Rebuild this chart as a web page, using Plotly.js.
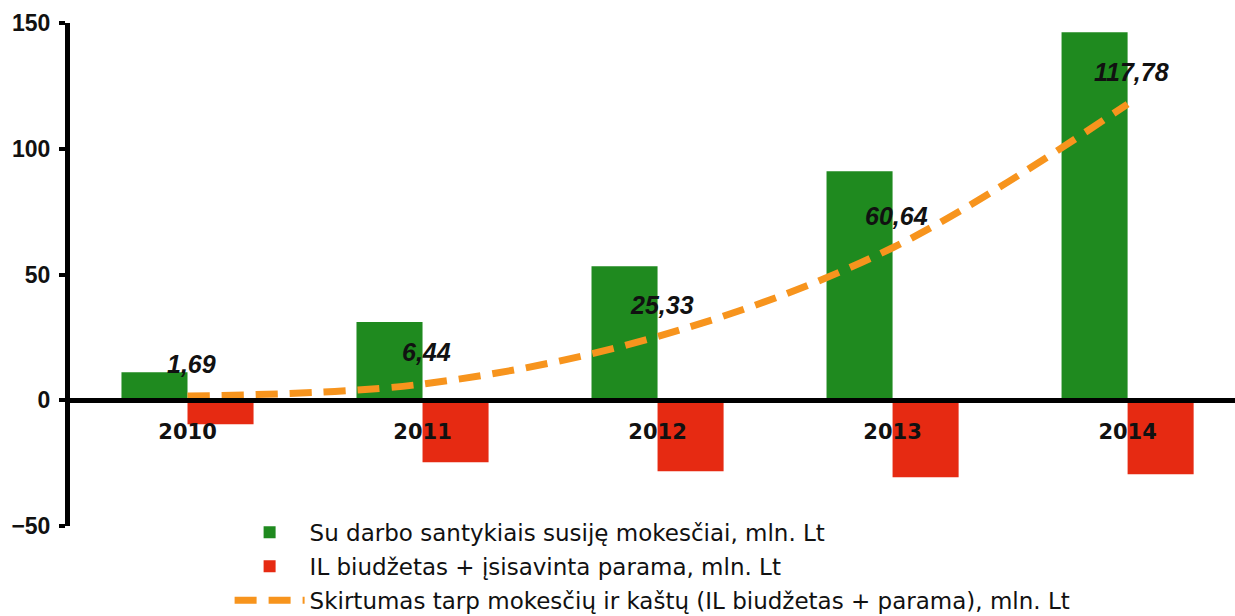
<!DOCTYPE html>
<html>
<head>
<meta charset="utf-8">
<script src="https://cdn.plot.ly/plotly-3.0.1.min.js"></script>
<style>html,body{margin:0;padding:0;background:#fff;}#chart{width:1235px;height:616px;}</style>
</head>
<body>
<div id="chart"></div>
<script>
const years = ['2010', '2011', '2012', '2013', '2014'];
const taxes = [11.1, 31.1, 53.3, 91.1, 146.3];
const costs = [-9.5, -24.7, -28.2, -30.6, -29.4];
const difference = [1.69, 6.44, 25.33, 60.64, 117.78];
const differenceLabels = ['1,69', '6,44', '25,33', '60,64', '117,78'];
const seriesNames = [
  'Su darbo santykiais susiję mokesčiai, mln. Lt',
  'IL biudžetas + įsisavinta parama, mln. Lt',
  'Skirtumas tarp mokesčių ir kaštų (IL biudžetas + parama), mln. Lt'
];

const font = 'Liberation Sans, Arial, sans-serif';

const traces = [
  {type: 'bar', x: years, y: taxes, name: seriesNames[0], legendgroup: 'g1',
   marker: {color: '#1f8a1f'}, hoverinfo: 'skip'},
  {type: 'bar', x: years, y: costs, name: seriesNames[1], legendgroup: 'g2',
   marker: {color: '#e62a12'}, hoverinfo: 'skip'},
  {type: 'scatter', mode: 'lines', x: years, y: difference, name: seriesNames[2], legendgroup: 'g3',
   line: {color: '#f7941d', width: 7, dash: '22px,12px', shape: 'spline', smoothing: 1},
   hoverinfo: 'skip'}
];

const annotations = years.map((yr, i) => ({
  x: i, y: difference[i], xref: 'x', yref: 'y',
  text: '<b><i>' + differenceLabels[i] + '</i></b>',
  showarrow: false, yshift: 32, xshift: 4,
  font: {family: font, size: 25, color: '#111'}
}));

const layout = {
  width: 1235, height: 616,
  margin: {l: 70, r: 0, t: 23, b: 90, pad: 0, autoexpand: false},
  paper_bgcolor: '#fff', plot_bgcolor: '#fff',
  barmode: 'group', bargap: 0.438, bargroupgap: 0,
  showlegend: true,
  legend: {
    x: 0.137, xanchor: 'left', y: 0.03, yanchor: 'top',
    font: {family: 'DejaVu Sans, sans-serif', size: 23, color: '#111'},
    bgcolor: 'rgba(0,0,0,0)', traceorder: 'grouped', tracegroupgap: 1, itemwidth: 70
  },
  xaxis: {
    type: 'category', range: [-0.5, 4.457],
    anchor: 'free', position: 0.25,
    showline: true, linecolor: '#000', linewidth: 5,
    ticks: '', showgrid: false, zeroline: false,
    tickfont: {family: 'DejaVu Sans, sans-serif', size: 21, color: '#111', weight: 'bold'},
    ticklabelstandoff: 11
  },
  yaxis: {
    range: [-50, 150], tickvals: [-50, 0, 50, 100, 150],
    showline: true, linecolor: '#000', linewidth: 5,
    ticks: 'outside', ticklen: 6, tickwidth: 4, tickcolor: '#000',
    showgrid: false, zeroline: false,
    tickfont: {family: font, size: 23, color: '#111', weight: 'bold'},
    ticklabelstandoff: 4
  },
  annotations: annotations
};

Plotly.newPlot('chart', traces, layout, {staticPlot: true, displayModeBar: false});
</script>
</body>
</html>
